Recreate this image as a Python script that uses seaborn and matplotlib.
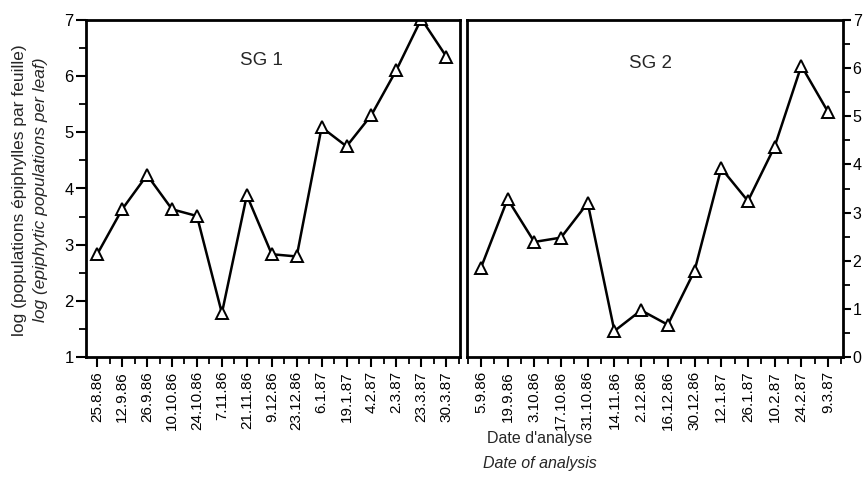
import numpy as np
import pandas as pd
import seaborn as sns
import matplotlib
matplotlib.use("Agg")
import matplotlib.pyplot as plt
from matplotlib.ticker import MultipleLocator

sns.set_theme(style="ticks")
plt.rcParams["font.family"] = ["Liberation Sans", "DejaVu Sans"]

# SG 1 : dates and log counts
sg1_dates = ["25.8.86", "12.9.86", "26.9.86", "10.10.86", "24.10.86", "7.11.86",
             "21.11.86", "9.12.86", "23.12.86", "6.1.87", "19.1.87", "4.2.87",
             "2.3.87", "23.3.87", "30.3.87"]
sg1_values = [2.83, 3.63, 4.24, 3.63, 3.51, 1.78, 3.88, 2.83, 2.79, 5.09, 4.75,
              5.31, 6.11, 7.02, 6.35]

# SG 2
sg2_dates = ["5.9.86", "19.9.86", "3.10.86", "17.10.86", "31.10.86", "14.11.86",
             "2.12.86", "16.12.86", "30.12.86", "12.1.87", "26.1.87", "10.2.87",
             "24.2.87", "9.3.87"]
sg2_values = [1.85, 3.28, 2.39, 2.48, 3.2, 0.54, 0.97, 0.67, 1.79, 3.92, 3.24,
              4.37, 6.05, 5.09]

df1 = pd.DataFrame({"date": sg1_dates, "log": sg1_values})
df2 = pd.DataFrame({"date": sg2_dates, "log": sg2_values})

fig = plt.figure(figsize=(8.65, 4.98), dpi=100)
ax1 = fig.add_axes([86 / 865, 141 / 498, 374 / 865, 337 / 498])
ax2 = fig.add_axes([467 / 865, 141 / 498, 376 / 865, 337 / 498])

line_kw = dict(color="black", linewidth=1.8, marker="^", markersize=8,
               markerfacecolor="white", markeredgecolor="black",
               markeredgewidth=1.4, sort=False)

sns.lineplot(data=df1, x="date", y="log", ax=ax1, **line_kw)
sns.lineplot(data=df2, x="date", y="log", ax=ax2, **line_kw)

ax1.set_xlim(-0.45, 14.55)
ax1.set_ylim(1, 7)
ax2.set_xlim(-0.52, 13.56)
ax2.set_ylim(0, 7)

ax2.yaxis.tick_right()

for ax in (ax1, ax2):
    ax.set_xlabel("")
    ax.set_ylabel("")
    ax.xaxis.set_minor_locator(MultipleLocator(0.5))
    ax.yaxis.set_major_locator(MultipleLocator(1))
    ax.yaxis.set_minor_locator(MultipleLocator(0.5))
    ax.tick_params(axis="both", which="major", direction="out", length=7,
                   width=1.5, color="black", labelcolor="black")
    ax.tick_params(axis="both", which="minor", direction="out", length=5,
                   width=1.3, color="black")
    ax.tick_params(axis="x", labelrotation=90, labelsize=11, pad=3)
    ax.tick_params(axis="y", labelsize=12, pad=2)
    for sp in ax.spines.values():
        sp.set_visible(True)
        sp.set_linewidth(2)
        sp.set_color("black")
    ax.grid(False)

ax2.tick_params(axis="y", which="major", length=6, pad=1, labelsize=11.5)

ax1.text(0.468, 0.88, "SG 1", transform=ax1.transAxes, ha="center",
         va="center", fontsize=13.5)
ax2.text(0.487, 0.87, "SG 2", transform=ax2.transAxes, ha="center",
         va="center", fontsize=13.5)

fig.text(20 / 865, 1 - 190 / 498, "log (populations épiphylles par feuille)",
         rotation=90, ha="center", va="center", fontsize=12.5)
fig.text(41 / 865, 1 - 190 / 498, "log (epiphytic populations per leaf)",
         rotation=90, ha="center", va="center", fontsize=12.5, style="italic")

fig.text(540 / 865, 1 - 438 / 498, "Date d'analyse", ha="center", va="center",
         fontsize=11.5)
fig.text(540 / 865, 1 - 463 / 498, "Date of analysis", ha="center",
         va="center", fontsize=11.5, style="italic")

fig.savefig("out.png", dpi=100)
